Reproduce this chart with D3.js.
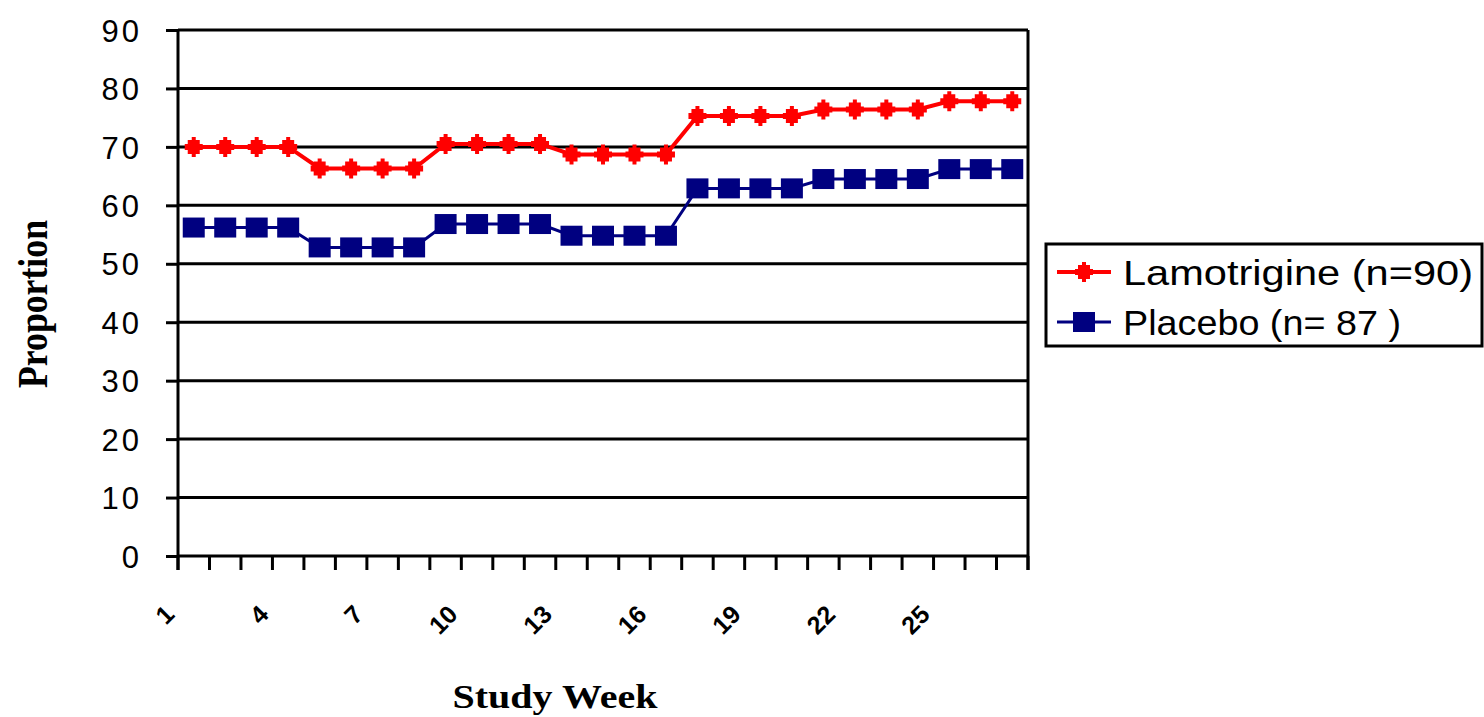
<!DOCTYPE html>
<html>
<head>
<meta charset="utf-8">
<script src="https://cdn.jsdelivr.net/npm/d3@7"></script>
<style>
  body { margin: 0; background: #fff; }
  svg { display: block; }
</style>
</head>
<body>
<div id="chart"></div>
<script>
// chart data
var weeks = ["1","2","3","4","5","6","7","8","9","10","11","12","13","14",
             "15","16","17","18","19","20","21","22","23","24","25","26","27"];
var weekLabels = ["1","4","7","10","13","16","19","22","25"];
var lamotrigine = [70,70,70,70, 66.3,66.3,66.3,66.3, 70.5,70.5,70.5,70.5,
                   68.7,68.7,68.7,68.7, 75.3,75.3,75.3,75.3, 76.4,76.4,76.4,76.4,
                   77.8,77.8,77.8];
var placebo = [56.2,56.2,56.2,56.2, 52.8,52.8,52.8,52.8, 56.8,56.8,56.8,56.8,
               54.8,54.8,54.8,54.8, 62.9,62.9,62.9,62.9, 64.5,64.5,64.5,64.5,
               66.2,66.2,66.2];
var yTicks = [0,10,20,30,40,50,60,70,80,90];
var seriesNames = ["Lamotrigine (n=90)", "Placebo (n= 87 )"];

var width = 1484, height = 717;
var margin = {top: 30, right: 456, bottom: 161, left: 178};

var svg = d3.select("#chart").append("svg")
  .attr("width", width)
  .attr("height", height);

var x = d3.scaleBand()
  .domain(weeks)
  .range([margin.left, width - margin.right])
  .padding(0);

var y = d3.scaleLinear()
  .domain([0, 90])
  .range([height - margin.bottom, margin.top]);

var x0 = margin.left, x1 = width - margin.right;
var y0 = y(0);

// gridlines + y axis
var yAxis = d3.axisLeft(y).tickValues(yTicks).tickSize(12).tickPadding(24).tickFormat(d3.format("d"));
var gy = svg.append("g")
  .attr("transform", "translate(" + x0 + ",0)")
  .call(yAxis);
gy.select(".domain").remove();
gy.selectAll(".tick line").attr("stroke", "#000").attr("stroke-width", 3);
gy.selectAll(".tick text")
  .attr("fill", "#000")
  .style("font-family", "'Liberation Sans', Arial, sans-serif")
  .style("font-size", "31px")
  .style("letter-spacing", "3px")
  .attr("dy", "0.36em");

svg.append("g")
  .selectAll("line")
  .data(yTicks)
  .enter().append("line")
  .attr("x1", x0)
  .attr("x2", x1)
  .attr("y1", function(d) { return y(d); })
  .attr("y2", function(d) { return y(d); })
  .attr("stroke", "#000")
  .attr("stroke-width", 3);

// x axis ticks at category boundaries
var boundaries = weeks.map(function(w) { return x(w); }).concat([x1]);
svg.append("g")
  .selectAll("line")
  .data(boundaries)
  .enter().append("line")
  .attr("x1", function(d) { return d; })
  .attr("x2", function(d) { return d; })
  .attr("y1", y0)
  .attr("y2", y0 + 14)
  .attr("stroke", "#000")
  .attr("stroke-width", 3);

// vertical frame lines
svg.append("line")
  .attr("x1", x0).attr("x2", x0)
  .attr("y1", y(90)).attr("y2", y0 + 14)
  .attr("stroke", "#000").attr("stroke-width", 3);
svg.append("line")
  .attr("x1", x1).attr("x2", x1)
  .attr("y1", y(90)).attr("y2", y0 + 14)
  .attr("stroke", "#000").attr("stroke-width", 3);

// x tick labels, rotated
svg.append("g")
  .selectAll("text")
  .data(weekLabels)
  .enter().append("text")
  .attr("transform", function(d) {
    var cx = x(d) + x.bandwidth() / 2 - 18;
    return "translate(" + cx + "," + (y0 + 60) + ") rotate(-45)";
  })
  .attr("text-anchor", "end")
  .style("font-family", "'Liberation Sans', Arial, sans-serif")
  .style("font-size", "25px")
  .style("font-weight", "bold")
  .text(function(d) { return d; });

// series
var line = d3.line()
  .x(function(d, i) { return x(weeks[i]) + x.bandwidth() / 2; })
  .y(function(d) { return y(d); });

svg.append("path")
  .datum(placebo)
  .attr("fill", "none")
  .attr("stroke", "#000080")
  .attr("stroke-width", 3)
  .attr("d", line);

svg.append("path")
  .datum(lamotrigine)
  .attr("fill", "none")
  .attr("stroke", "#ff0000")
  .attr("stroke-width", 4)
  .attr("d", line);

// red marker: fat blob with small spikes top/bottom
var redMarker = "M-9,-3 L-6,-3 L-6,-7 L-2,-7 L-2,-10 L2,-10 L2,-7 L6,-7 L6,-3 L9,-3 L9,3 L6,3 L6,7 L2,7 L2,10 L-2,10 L-2,7 L-6,7 L-6,3 L-9,3 Z";

svg.append("g")
  .selectAll("rect")
  .data(placebo)
  .enter().append("rect")
  .attr("x", function(d, i) { return x(weeks[i]) + x.bandwidth() / 2 - 11; })
  .attr("y", function(d) { return y(d) - 10; })
  .attr("width", 22)
  .attr("height", 20)
  .attr("fill", "#000080");

svg.append("g")
  .selectAll("path")
  .data(lamotrigine)
  .enter().append("path")
  .attr("transform", function(d, i) {
    return "translate(" + (x(weeks[i]) + x.bandwidth() / 2) + "," + y(d) + ")";
  })
  .attr("d", redMarker)
  .attr("fill", "#ff0000");

// axis titles
svg.append("text")
  .attr("x", (x0 + x1) / 2 - 48)
  .attr("y", 708)
  .attr("text-anchor", "middle")
  .attr("textLength", 205)
  .attr("lengthAdjust", "spacingAndGlyphs")
  .style("font-family", "'Liberation Serif', 'Times New Roman', serif")
  .style("font-size", "34px")
  .style("font-weight", "bold")
  .text("Study Week");

svg.append("text")
  .attr("transform", "translate(47,304) rotate(-90)")
  .attr("text-anchor", "middle")
  .attr("textLength", 168)
  .attr("lengthAdjust", "spacingAndGlyphs")
  .style("font-family", "'Liberation Serif', 'Times New Roman', serif")
  .style("font-size", "42px")
  .style("font-weight", "bold")
  .text("Proportion");

// legend
var legend = svg.append("g").attr("transform", "translate(1046,244)");
legend.append("rect")
  .attr("x", 0).attr("y", 0)
  .attr("width", 436).attr("height", 102)
  .attr("fill", "#fff")
  .attr("stroke", "#000")
  .attr("stroke-width", 3);

var lg = legend.selectAll("g.item")
  .data(seriesNames)
  .enter().append("g")
  .attr("class", "item")
  .attr("transform", function(d, i) { return "translate(0," + (28 + i * 50) + ")"; });

lg.append("line")
  .attr("x1", 11).attr("x2", 65)
  .attr("y1", 0).attr("y2", 0)
  .attr("stroke", function(d, i) { return i === 0 ? "#ff0000" : "#000080"; })
  .attr("stroke-width", function(d, i) { return i === 0 ? 4 : 3; });

lg.filter(function(d, i) { return i === 0; })
  .append("path")
  .attr("transform", "translate(38,0)")
  .attr("d", redMarker)
  .attr("fill", "#ff0000");

lg.filter(function(d, i) { return i === 1; })
  .append("rect")
  .attr("x", 27).attr("y", -10)
  .attr("width", 22).attr("height", 20)
  .attr("fill", "#000080");

lg.append("text")
  .attr("x", 77)
  .attr("y", 0)
  .attr("dy", "0.36em")
  .attr("textLength", function(d, i) { return i === 0 ? 350 : 278; })
  .attr("lengthAdjust", "spacingAndGlyphs")
  .style("font-family", "'Liberation Sans', Arial, sans-serif")
  .style("font-size", "35px")
  .text(function(d) { return d; });
</script>
</body>
</html>
